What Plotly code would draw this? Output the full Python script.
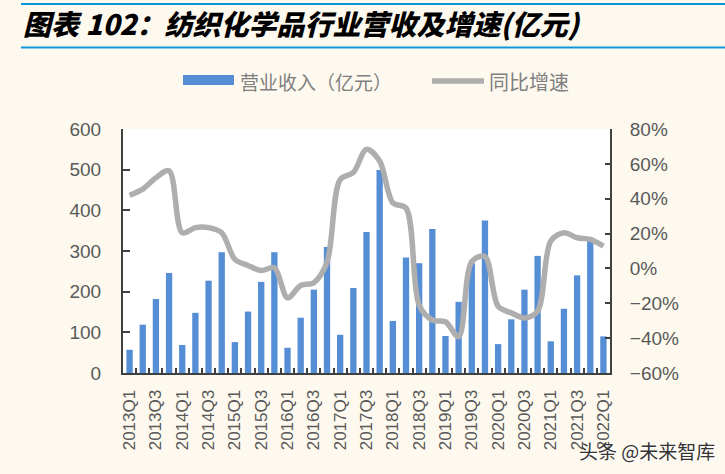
import plotly.graph_objects as go

quarters = [f"{y}Q{q}" for y in range(2013, 2022) for q in range(1, 5)] + ["2022Q1"]

revenue = [57, 119, 182, 246, 69, 148, 227, 297, 76, 151, 224, 297,
           62, 136, 205, 310, 94, 209, 347, 499, 128, 284, 270, 354,
           91, 175, 270, 375, 71, 132, 205, 288, 78, 158, 240, 333, 90]

growth = [42, 45.5, 52, 56, 20.5, 23.4, 23.4, 20.5, 5.2, 1.7, -1.2, 0.4,
          -16.9, -9.8, -8.2, 3.5, 51, 55, 68.3, 61.6, 37.6, 34.7, -21, -29.6,
          -30.6, -39.2, 4, 6.8, -21.7, -25.5, -28.4, -24.5, 15.7, 20.5, 17.6, 16.7, 12.8]

tick_text = [q if i % 2 == 0 else "" for i, q in enumerate(quarters)]

BAR = "#558ED5"
LINE = "#AEAEAE"
BG = "#FEF9EF"
AX = "#404040"
TXT = "#595959"
NUMF = "Liberation Sans, Arial, sans-serif"
CJK = "Noto Sans CJK SC, sans-serif"

fig = go.Figure()
fig.add_trace(go.Bar(x=quarters, y=revenue, name="营业收入（亿元）",
                     marker=dict(color=BAR, line=dict(width=0)), showlegend=False))
fig.add_trace(go.Scatter(x=quarters, y=growth, name="同比增速", yaxis="y2",
                         mode="lines", line=dict(color=LINE, width=5.5, shape="spline", smoothing=0.9),
                         showlegend=False))

L, R, T, B = 123, 115, 129, 101
W, H = 725, 474
PW, PH = W - L - R, H - T - B

def px(x):
    return (x - L) / PW

def py(y):
    return (H - B - y) / PH

shapes = [
    dict(type="line", xref="paper", yref="paper", x0=px(21), x1=px(725), y0=py(4), y1=py(4),
         line=dict(color="#0A98DA", width=2.2)),
    dict(type="line", xref="paper", yref="paper", x0=px(21), x1=px(725), y0=py(47.5), y1=py(47.5),
         line=dict(color="#0A98DA", width=2.2)),
    dict(type="rect", xref="paper", yref="paper", x0=px(183), x1=px(234), y0=py(85), y1=py(75),
         fillcolor=BAR, line=dict(width=0)),
    dict(type="line", xref="paper", yref="paper", x0=px(432), x1=px(484), y0=py(81), y1=py(81),
         line=dict(color=LINE, width=5.5)),
]

annotations = [
    dict(text="<i>图表 102：纺织化学品行业营收及增速(亿元)</i>", xref="paper", yref="paper",
         x=px(21), y=py(23), xanchor="left", yanchor="middle", showarrow=False,
         font=dict(family=CJK, size=28, color="#000000", weight=900)),
    dict(text="营业收入（亿元）", xref="paper", yref="paper", x=px(238), y=py(82),
         xanchor="left", yanchor="middle", showarrow=False,
         font=dict(family=CJK, size=19, color="#7F7F7F")),
    dict(text="同比增速", xref="paper", yref="paper", x=px(487), y=py(82),
         xanchor="left", yanchor="middle", showarrow=False,
         font=dict(family=CJK, size=20, color="#7F7F7F")),
    dict(text="头条 @未来智库", xref="paper", yref="paper", x=px(577), y=py(450),
         xanchor="left", yanchor="middle", showarrow=False,
         font=dict(family=CJK, size=19, color="#333333", shadow="1px 1px 1px #ffffff")),
]

fig.update_layout(
    width=W, height=H,
    margin=dict(l=L, r=R, t=T, b=B, pad=0),
    paper_bgcolor=BG, plot_bgcolor="#FFFFFF",
    bargap=0.52,
    shapes=shapes, annotations=annotations,
    xaxis=dict(type="category", tickmode="array", tickvals=quarters, ticktext=tick_text,
               tickson="boundaries", ticks="inside", ticklen=5, tickwidth=1.5, tickcolor=AX,
               showline=True, linecolor=AX, linewidth=2, tickangle=-90,
               tickfont=dict(family=NUMF, size=17, color=TXT), ticklabelstandoff=8,
               showgrid=False, zeroline=False),
    yaxis=dict(range=[0, 600], dtick=100, ticks="inside", ticklen=7, tickwidth=1.5, tickcolor=AX,
               showline=True, linecolor=AX, linewidth=2, showgrid=False, zeroline=False,
               tickfont=dict(family=NUMF, size=19, color=TXT), ticklabelstandoff=16),
    yaxis2=dict(range=[-60, 80], dtick=20, ticksuffix="%", overlaying="y", side="right",
                ticks="inside", ticklen=5, tickwidth=1.5, tickcolor=AX,
                showline=True, linecolor=AX, linewidth=2, showgrid=False, zeroline=False,
                tickfont=dict(family=NUMF, size=19, color=TXT), ticklabelstandoff=14),
)

fig.write_html(
    "out.html",
    config={"displayModeBar": False},
    post_script="document.body.style.margin='0';document.body.style.padding='0';"
                "document.body.style.background='" + BG + "';"
                "document.body.style.overflow='hidden';",
)
